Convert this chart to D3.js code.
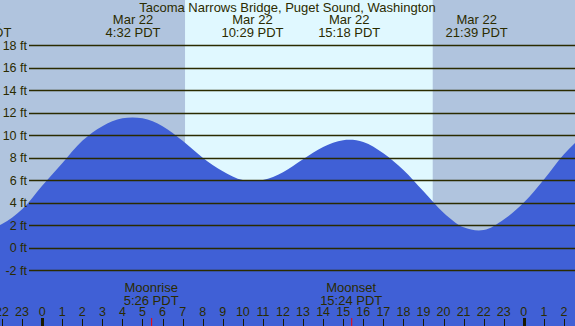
<!DOCTYPE html>
<html>
<head>
<meta charset="utf-8">
<title>Tacoma Narrows Bridge, Puget Sound, Washington</title>
<script src="https://cdnjs.cloudflare.com/ajax/libs/d3/7.8.5/d3.min.js"></script>
<style>
    body { margin: 0; background: #fff; overflow: hidden; }
    svg { display: block; }
    text { font-family: "Liberation Sans", Arial, sans-serif; fill: #2b2b00; }
</style>
</head>
<body>
<script>
const width = 575;
const height = 326;

// hours since midnight Mar 22 (negative = Mar 21, >24 = Mar 23)
const hours =   [-4, -3, -2, -1, 0, 1, 2, 3, 4, 5, 6, 7, 8, 9, 10, 11, 12, 13, 14, 15, 16, 17, 18, 19, 20, 21, 22, 23, 24, 25, 26, 27, 28];
const heights = [1.7, 1.5, 2.1, 3.4, 5.5, 7.5, 9.5, 10.8, 11.5, 11.5, 10.8, 9.5, 8.0, 6.8, 6.0, 6.0, 6.7, 7.85, 8.95, 9.55, 9.4, 8.4, 6.9, 5.0, 3.1, 1.8, 1.55, 2.5, 4.0, 6.05, 8.3, 10.0, 11.2];

// high / low tide labels
const extremeHours = [-3.08, 4.53, 10.48, 15.3, 21.65];
const extremeDates = ["Mar 21", "Mar 22", "Mar 22", "Mar 22", "Mar 22"];
const extremeTimes = ["20:55 PDT", "4:32 PDT", "10:29 PDT", "15:18 PDT", "21:39 PDT"];

// moon events
const moonHours = [5.43, 15.4];
const moonNames = ["Moonrise", "Moonset"];
const moonTimes = ["5:26 PDT", "15:24 PDT"];

// daylight
const sunrise = 7.12;
const sunset = 19.46;

const feetTicks = [-2, 0, 2, 4, 6, 8, 10, 12, 14, 16, 18];
const hourTicks = d3.range(-2, 27);

const x = d3.scaleLinear().domain([-2.1, 26.55]).range([0, width]);
const y = d3.scaleLinear().domain([-2, 18]).range([270, 45.3]);

const svg = d3.select("body").append("svg")
    .attr("width", width)
    .attr("height", height);

// night background
svg.append("rect")
    .attr("width", width).attr("height", height)
    .attr("fill", "#b0c4de");

// daylight band
svg.append("rect")
    .attr("x", x(sunrise)).attr("y", 0)
    .attr("width", x(sunset) - x(sunrise)).attr("height", height)
    .attr("fill", "#e0f8ff");

// tide area
const tide = hours.map((h, i) => ({ h: h, v: heights[i] }));
const area = d3.area()
    .x(d => x(d.h))
    .y0(height)
    .y1(d => y(d.v))
    .curve(d3.curveCatmullRom.alpha(0.5));

svg.append("path")
    .datum(tide)
    .attr("d", area)
    .attr("fill", "#4060d6");

// horizontal grid lines + labels
svg.selectAll(".grid")
    .data(feetTicks)
    .join("line")
    .attr("class", "grid")
    .attr("x1", 29).attr("x2", width)
    .attr("y1", d => Math.round(y(d)) + 0.5)
    .attr("y2", d => Math.round(y(d)) + 0.5)
    .attr("stroke", "#2b2b00")
    .attr("stroke-width", 1.3);

svg.selectAll(".ftlabel")
    .data(feetTicks)
    .join("text")
    .attr("class", "ftlabel")
    .attr("x", 27)
    .attr("y", d => y(d))
    .attr("dy", "0.36em")
    .attr("text-anchor", "end")
    .attr("font-size", 12.5)
    .text(d => d + " ft");

// title
svg.append("text")
    .attr("x", width / 2).attr("y", 12)
    .attr("text-anchor", "middle")
    .attr("font-size", 13)
    .text("Tacoma Narrows Bridge, Puget Sound, Washington");

// extreme labels
const ext = svg.selectAll(".ext")
    .data(extremeHours)
    .join("g")
    .attr("class", "ext")
    .attr("transform", d => `translate(${x(d)},0)`);

ext.append("text")
    .attr("y", 24)
    .attr("text-anchor", "middle")
    .attr("font-size", 13)
    .text((d, i) => extremeDates[i]);

ext.append("text")
    .attr("y", 37)
    .attr("text-anchor", "middle")
    .attr("font-size", 13)
    .text((d, i) => extremeTimes[i]);

// moon labels
const moon = svg.selectAll(".moon")
    .data(moonHours)
    .join("g")
    .attr("class", "moon")
    .attr("transform", d => `translate(${x(d)},0)`);

moon.append("text")
    .attr("y", 292)
    .attr("text-anchor", "middle")
    .attr("font-size", 13)
    .text((d, i) => moonNames[i]);

moon.append("text")
    .attr("y", 305)
    .attr("text-anchor", "middle")
    .attr("font-size", 13)
    .text((d, i) => moonTimes[i]);

moon.append("line")
    .attr("x1", 0.5).attr("x2", 0.5)
    .attr("y1", 318).attr("y2", height)
    .attr("stroke", "#ff0000")
    .attr("stroke-width", 1);

// hour axis
svg.selectAll(".hlabel")
    .data(hourTicks)
    .join("text")
    .attr("class", "hlabel")
    .attr("x", d => x(d))
    .attr("y", 316)
    .attr("text-anchor", "middle")
    .attr("font-size", 12.5)
    .text(d => ((d % 24) + 24) % 24);

svg.selectAll(".htick")
    .data(hourTicks)
    .join("rect")
    .attr("class", "htick")
    .attr("x", d => (d % 24 === 0) ? Math.round(x(d)) - 1 : Math.round(x(d)))
    .attr("y", d => (d % 24 === 0) ? 318 : 319)
    .attr("width", d => (d % 24 === 0) ? 3 : 1)
    .attr("height", d => (d % 24 === 0) ? 8 : 7)
    .attr("fill", "#1a1a00");
</script>
</body>
</html>
